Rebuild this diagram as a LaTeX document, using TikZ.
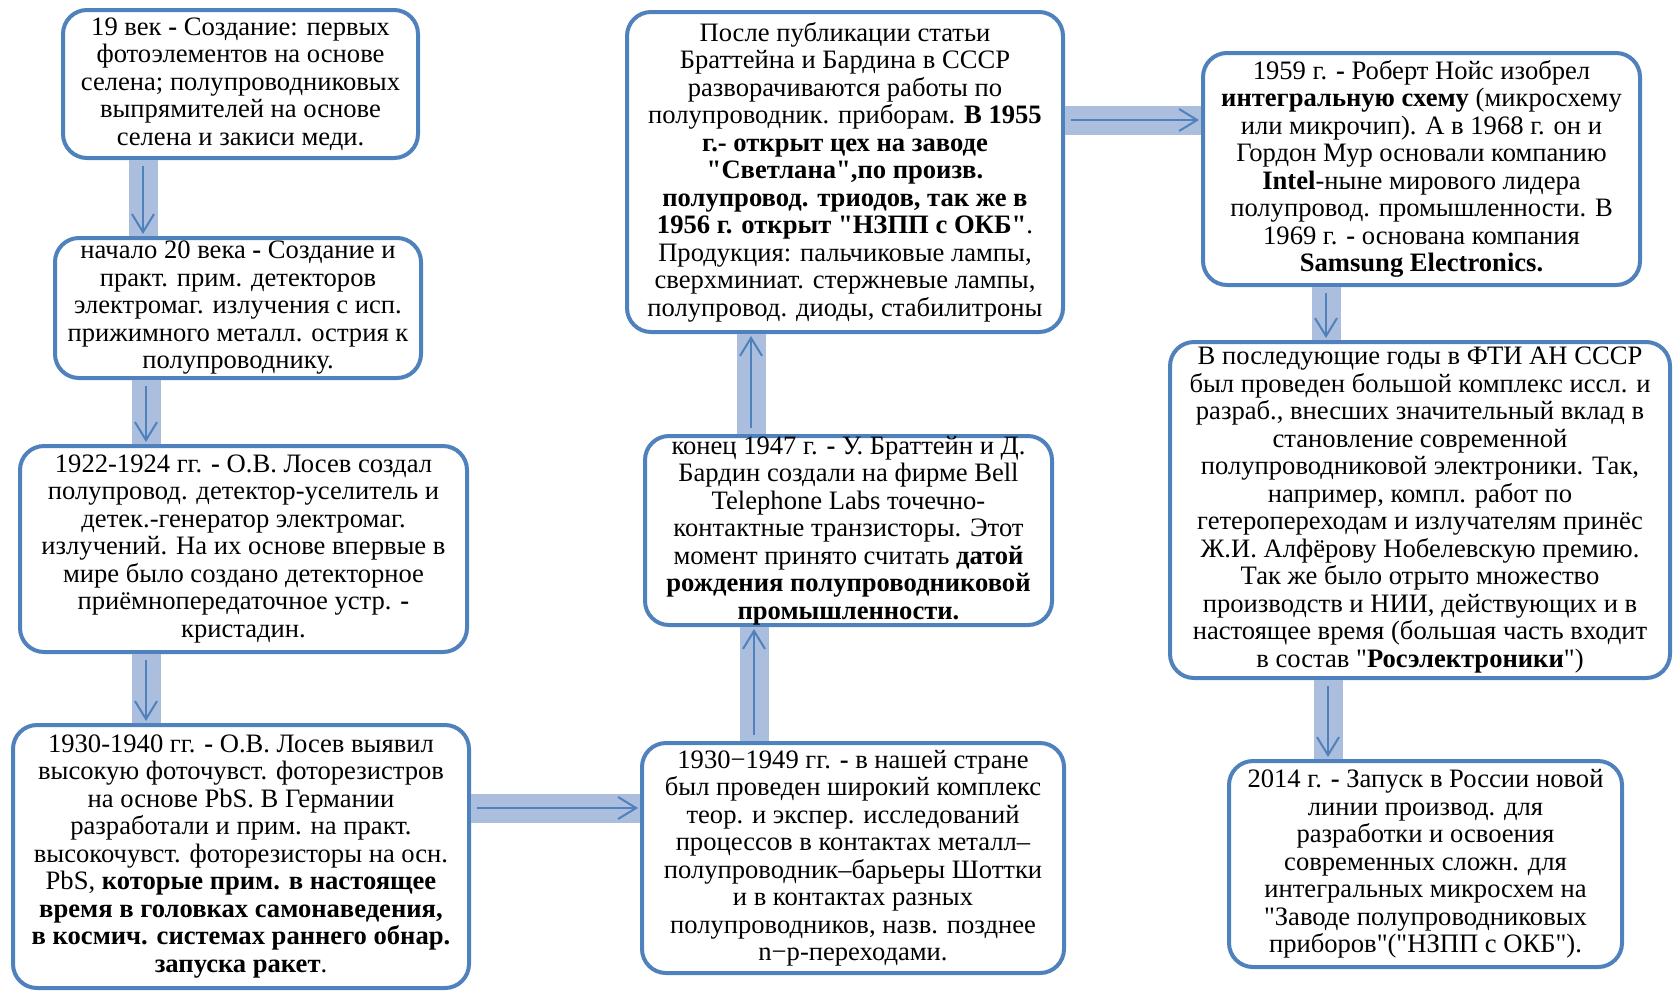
\documentclass[tikz,border=0pt]{standalone}
\usepackage{fontspec}
\setmainfont{Liberation Serif}[Ligatures=TeXOff]
\usepackage{xcolor}
\usepackage{tikz}
\usetikzlibrary{arrows.meta}
\usetikzlibrary{calc}
\definecolor{boxblue}{RGB}{79,129,189}
\definecolor{bandblue}{RGB}{172,190,222}
\tikzset{
  box/.style={draw=boxblue, line width=2pt, rounded corners=12pt, fill=white, align=center, inner sep=0pt, font=\fontsize{13.3}{13.75}\selectfont},
  band/.style={draw=bandblue, line width=14.5pt},
  pointer/.style={draw=boxblue, line width=1pt, shorten <=3pt, shorten >=1pt, -{Straight Barb[length=9pt,width=11pt]}}
}

\begin{document}
\begin{tikzpicture}[x=0.5pt, y=-0.5pt]
            \useasboundingbox (0,0) rectangle (1673,991);
            \draw (240.5,84) node[box, minimum width=177.5pt, minimum height=74pt]     (a) {19 век \textbf{-} Создание: первых\\ фотоэлементов на основе\\ селена; полупроводниковых\\ выпрямителей на основе\\ селена и закиси меди.};
            \draw (238,308) node[box, minimum width=183pt, minimum height=70pt]        (b) {начало 20 века \textbf{-} Создание и\\ практ. прим. детекторов\\ электромаг. излучения с исп.\\ прижимного металл. острия к\\ полупроводнику.};
            \draw (243.5,549) node[box, minimum width=223.5pt, minimum height=103pt]   (c) {1922-1924 гг. \textbf{-} О.В. Лосев создал\\ полупровод. детектор-уселитель и\\ детек.-генератор электромаг.\\ излучений. На их основе впервые в\\ мире было создано детекторное\\ приёмнопередаточное устр. \textbf{-}\\ кристадин.};
            \draw (241,856.5) node[box, minimum width=228pt, minimum height=131.5pt]   (d) {1930-1940 гг. \textbf{-} О.В. Лосев выявил\\ высокую фоточувст. фоторезистров\\ на основе PbS. В Германии\\ разработали и прим. на практ.\\ высокочувст. фоторезисторы на осн.\\ PbS, \textbf{которые прим. в настоящее}\\ \textbf{время в головках самонаведения,}\\ \textbf{в космич. системах раннего обнар.}\\ \textbf{запуска ракет}.};
            \draw (853,858) node[box, minimum width=211pt, minimum height=115pt]       (e) {1930−1949 гг. \textbf{-} в нашей стране\\ был проведен широкий комплекс\\ теор. и экспер. исследований\\ процессов в контактах металл–\\ полупроводник–барьеры Шоттки\\ и в контактах разных\\ полупроводников, назв. позднее\\ n−p-переходами.};
            \draw (848.5,530.5) node[box, minimum width=203.5pt, minimum height=94.5pt] (f) {конец 1947 г. \textbf{-} У. Браттейн и Д.\\ Бардин создали на фирме Bell\\ Telephone Labs точечно-\\ контактные транзисторы. Этот\\ момент принято считать \textbf{датой}\\ \textbf{рождения полупроводниковой}\\ \textbf{промышленности.}};
            \draw (845,172) node[box, minimum width=218pt, minimum height=160pt]       (g) {После публикации статьи\\ Браттейна и Бардина в СССР\\ разворачиваются работы по\\ полупроводник. приборам. \textbf{В 1955}\\ \textbf{г.- открыт цех на заводе}\\ \textbf{"Светлана",по произв.}\\ \textbf{полупровод. триодов, так же в}\\ \textbf{1956 г. открыт "НЗПП с ОКБ"}.\\ Продукция: пальчиковые лампы,\\ сверхминиат. стержневые лампы,\\ полупровод. диоды, стабилитроны};
            \draw (1421.5,169) node[box, minimum width=218.5pt, minimum height=116pt]  (h) {1959 г. \textbf{-} Роберт Нойс изобрел\\ \textbf{интегральную схему} (микросхему\\ или микрочип). А в 1968 г. он и\\ Гордон Мур основали компанию\\ \textbf{Intel}-ныне мирового лидера\\ полупровод. промышленности. В\\ 1969 г. \textbf{-} основана компания\\ \textbf{Samsung Electronics.}};
            \draw (1420,510) node[box, minimum width=250pt, minimum height=168pt]      (i) {В последующие годы в ФТИ АН СССР\\ был проведен большой комплекс иссл. и\\ разраб., внесших значительный вклад в\\ становление современной\\ полупроводниковой электроники. Так,\\ например, компл. работ по\\ гетеропереходам и излучателям принёс\\ Ж.И. Алфёрову Нобелевскую премию.\\ Так же было отрыто множество\\ производств и НИИ, действующих и в\\ настоящее время (большая часть входит\\ в состав "\textbf{Росэлектроники}")};
            \draw (1425.5,864) node[box, minimum width=196.5pt, minimum height=103pt]  (j) {2014 г. \textbf{-} Запуск в России новой\\ линии производ. для\\ разработки и освоения\\ современных сложн. для\\ интегральных микросхем на\\ "Заводе полупроводниковых\\ приборов"("НЗПП с ОКБ").};
            \coordinate (ab) at (143,0);
            \coordinate (bc) at (146,0);
            \coordinate (cd) at (146,0);
            \coordinate (de) at (0,808);
            \coordinate (ef) at (754,0);
            \coordinate (fg) at (751,0);
            \coordinate (gh) at (0,120);
            \coordinate (hi) at (1326,0);
            \coordinate (ij) at (1328,0);
            \draw[band] (a.south -| ab) -- (b.north -| ab);
            \draw[band] (b.south -| bc) -- (c.north -| bc);
            \draw[band] (c.south -| cd) -- (d.north -| cd);
            \draw[band] (d.east |- de) -- (e.west |- de);
            \draw[band] (e.north -| ef) -- (f.south -| ef);
            \draw[band] (f.north -| fg) -- (g.south -| fg);
            \draw[band] (g.east |- gh) -- (h.west |- gh);
            \draw[band] (h.south -| hi) -- (i.north -| hi);
            \draw[band] (i.south -| ij) -- (j.north -| ij);
            \draw[pointer] (a.south -| ab) -- (b.north -| ab);
            \draw[pointer] (b.south -| bc) -- (c.north -| bc);
            \draw[pointer] (c.south -| cd) -- (d.north -| cd);
            \draw[pointer] (d.east |- de) -- (e.west |- de);
            \draw[pointer] (e.north -| ef) -- (f.south -| ef);
            \draw[pointer] (f.north -| fg) -- (g.south -| fg);
            \draw[pointer] (g.east |- gh) -- (h.west |- gh);
            \draw[pointer] (h.south -| hi) -- (i.north -| hi);
            \draw[pointer] (i.south -| ij) -- (j.north -| ij);
\end{tikzpicture}
\end{document}
